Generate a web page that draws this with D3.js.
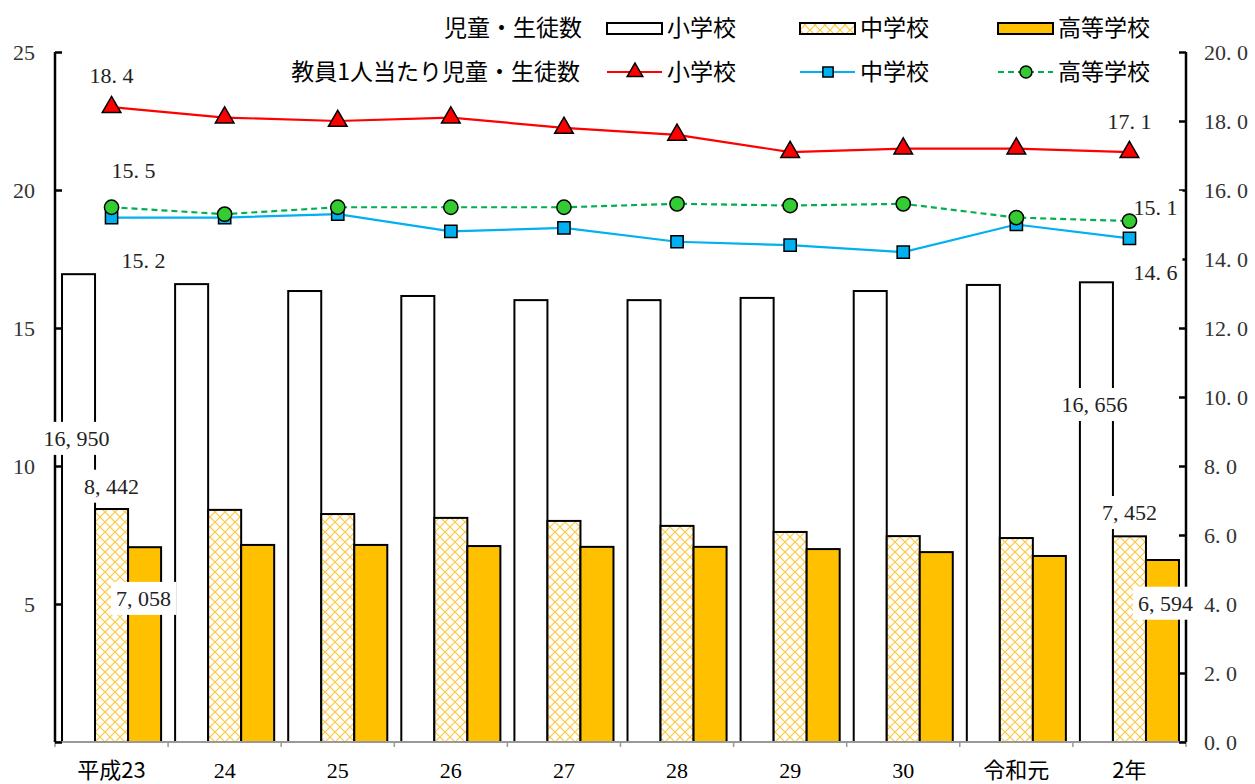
<!DOCTYPE html>
<html>
<head>
<meta charset="utf-8">
<script src="https://cdn.jsdelivr.net/npm/d3@7"></script>
<style>
  body { margin: 0; background: #fff; }
  text { font-family: "Liberation Serif", "Noto Sans CJK JP", serif; }
  .jp { font-family: "Noto Sans CJK JP", sans-serif; }
</style>
</head>
<body>
<div id="wrapper"></div>
<script>
const categories = ["平成23", "24", "25", "26", "27", "28", "29", "30", "令和元", "2年"];
// 児童・生徒数 (千人単位で左軸)
const elementaryCount = [16.950, 16.59, 16.34, 16.16, 16.01, 16.01, 16.09, 16.34, 16.56, 16.656];
const juniorCount = [8.442, 8.41, 8.26, 8.12, 8.01, 7.83, 7.61, 7.46, 7.39, 7.452];
const highCount = [7.058, 7.14, 7.14, 7.10, 7.07, 7.07, 6.99, 6.88, 6.74, 6.594];
// 教員1人当たり児童・生徒数 (右軸)
const elementaryRatio = [18.4, 18.1, 18.0, 18.1, 17.8, 17.6, 17.1, 17.2, 17.2, 17.1];
const juniorRatio = [15.2, 15.2, 15.3, 14.8, 14.9, 14.5, 14.4, 14.2, 15.0, 14.6];
const highRatio = [15.5, 15.3, 15.5, 15.5, 15.5, 15.6, 15.55, 15.6, 15.2, 15.1];
const leftTicks = [0, 5, 10, 15, 20, 25];
const rightTicks = [0, 2, 4, 6, 8, 10, 12, 14, 16, 18, 20];
const schoolNames = ["小学校", "中学校", "高等学校"];

const dimensions = {
  width: 1255,
  height: 784,
  margin: { top: 52, right: 69, bottom: 42, left: 55 },
};
dimensions.boundedWidth = dimensions.width - dimensions.margin.left - dimensions.margin.right;
dimensions.boundedHeight = dimensions.height - dimensions.margin.top - dimensions.margin.bottom;

const svg = d3.select("#wrapper")
  .append("svg")
  .attr("width", dimensions.width)
  .attr("height", dimensions.height);

const defs = svg.append("defs");
const hatch = defs.append("pattern")
  .attr("id", "hatch")
  .attr("patternUnits", "userSpaceOnUse")
  .attr("width", 10)
  .attr("height", 10);
hatch.append("rect").attr("width", 10).attr("height", 10).attr("fill", "#fff");
hatch.append("path").attr("d", "M0,0L10,10M10,0L0,10")
  .attr("stroke", "#FFC83D").attr("stroke-width", 1.2);

const bounds = svg.append("g")
  .attr("transform", `translate(${dimensions.margin.left},${dimensions.margin.top})`);

const xScale = d3.scaleBand()
  .domain(categories)
  .range([0, dimensions.boundedWidth])
  .paddingInner(0.124)
  .paddingOuter(0.062);
const subScale = d3.scaleBand()
  .domain(schoolNames)
  .range([0, xScale.bandwidth()]);
const yLeft = d3.scaleLinear().domain([0, 25]).range([dimensions.boundedHeight, 0]);
const yRight = d3.scaleLinear().domain([0, 20]).range([dimensions.boundedHeight, 0]);

const barSeries = [
  { name: "小学校", values: elementaryCount, fill: "#ffffff" },
  { name: "中学校", values: juniorCount, fill: "url(#hatch)" },
  { name: "高等学校", values: highCount, fill: "#FFC000" },
];
const lineSeries = [
  { name: "小学校", values: elementaryRatio, color: "#FF0000", fill: "#FF0000", symbol: d3.symbolTriangle, size: 150, dash: null },
  { name: "中学校", values: juniorRatio, color: "#00B0F0", fill: "#00B0F0", symbol: d3.symbolSquare, size: 150, dash: null },
  { name: "高等学校", values: highRatio, color: "#00B050", fill: "#33CC33", symbol: d3.symbolCircle, size: 160, dash: "6,4" },
];

// bars
barSeries.forEach((s) => {
  bounds.append("g").selectAll("rect")
    .data(s.values)
    .join("rect")
    .attr("x", (d, i) => xScale(categories[i]) + subScale(s.name))
    .attr("y", (d) => yLeft(d))
    .attr("width", subScale.bandwidth())
    .attr("height", (d) => yLeft(0) - yLeft(d))
    .attr("fill", s.fill)
    .attr("stroke", "#000")
    .attr("stroke-width", 2);
});

// bottom axis (gray)
const xAxis = bounds.append("g")
  .attr("transform", `translate(0,${dimensions.boundedHeight})`);
xAxis.append("line")
  .attr("x1", 0).attr("x2", dimensions.boundedWidth)
  .attr("stroke", "#999").attr("stroke-width", 2);
xAxis.selectAll(".tk")
  .data(d3.range(categories.length + 1))
  .join("line")
  .attr("x1", (i) => i * xScale.step()).attr("x2", (i) => i * xScale.step())
  .attr("y1", 0).attr("y2", 5)
  .attr("stroke", "#999").attr("stroke-width", 1.5);
xAxis.selectAll("text")
  .data(categories)
  .join("text")
  .attr("class", (d) => (/^\d+$/.test(d) ? null : "jp"))
  .attr("x", (d) => xScale(d) + xScale.bandwidth() / 2)
  .attr("y", 36)
  .attr("text-anchor", "middle")
  .attr("font-size", 22)
  .text((d) => d);

// left axis
const leftAxis = bounds.append("g")
  .call(d3.axisLeft(yLeft).tickValues(leftTicks).tickSize(-7).tickPadding(20).tickFormat(d3.format("d")));
leftAxis.select(".domain").attr("stroke-width", 2.5).attr("d", `M0,${dimensions.boundedHeight}V0`);
leftAxis.selectAll(".tick line").attr("stroke-width", 2.5);
leftAxis.selectAll(".tick text").attr("font-size", 22).attr("fill", "#333")
  .style("font-family", "Liberation Serif");
leftAxis.selectAll(".tick").filter((d) => d === 0).select("text").remove();

// right axis
const rightAxis = bounds.append("g")
  .attr("transform", `translate(${dimensions.boundedWidth},0)`)
  .call(d3.axisRight(yRight).tickValues(rightTicks).tickSize(-7).tickPadding(18).tickFormat((d) => d3.format(".1f")(d).replace(".", ". ")));
rightAxis.select(".domain").attr("stroke-width", 2.5).attr("d", `M0,${dimensions.boundedHeight}V0`);
rightAxis.selectAll(".tick line").attr("stroke-width", 2.5);
rightAxis.selectAll(".tick text").attr("font-size", 22).attr("fill", "#333")
  .style("font-family", "Liberation Serif");

// data labels (first and last year), under the lines
const labelG = bounds.append("g");
const fmtCount = (d) => d3.format(",")(Math.round(d * 1000)).replace(",", ", ");
const fmtRatio = (d) => d3.format(".1f")(d).replace(".", ". ");
const cx = (i) => xScale(categories[i]) + xScale.bandwidth() / 2;
const labels = [
  { x: cx(0) - 35, y: yLeft(elementaryCount[0]) + 164, text: fmtCount(elementaryCount[0]) },
  { x: cx(0), y: yLeft(juniorCount[0]) - 23, text: fmtCount(juniorCount[0]) },
  { x: cx(0) + 32, y: yLeft(highCount[0]) + 51, text: fmtCount(highCount[0]) },
  { x: cx(9) - 35, y: yLeft(elementaryCount[9]) + 122, text: fmtCount(elementaryCount[9]) },
  { x: cx(9), y: yLeft(juniorCount[9]) - 24, text: fmtCount(juniorCount[9]) },
  { x: cx(9) + 36, y: yLeft(highCount[9]) + 43, text: fmtCount(highCount[9]) },
  { x: cx(0), y: yRight(elementaryRatio[0]) - 32, text: fmtRatio(elementaryRatio[0]) },
  { x: cx(0) + 22, y: yRight(highRatio[0]) - 37, text: fmtRatio(highRatio[0]) },
  { x: cx(0) + 32, y: yRight(juniorRatio[0]) + 43, text: fmtRatio(juniorRatio[0]) },
  { x: cx(9), y: yRight(elementaryRatio[9]) - 31, text: fmtRatio(elementaryRatio[9]) },
  { x: cx(9) + 26, y: yRight(highRatio[9]) - 14, text: fmtRatio(highRatio[9]) },
  { x: cx(9) + 26, y: yRight(juniorRatio[9]) + 34, text: fmtRatio(juniorRatio[9]) },
];
labels.forEach((l) => {
  const g = labelG.append("g").attr("transform", `translate(${l.x},${l.y})`);
  const t = g.append("text")
    .attr("text-anchor", "middle")
    .attr("dy", "0.35em")
    .attr("font-size", 22)
    .attr("fill", "#222")
    .text(l.text);
  const bb = t.node().getBBox();
  g.insert("rect", "text")
    .attr("x", bb.x - 5).attr("y", bb.y - 4)
    .attr("width", bb.width + 10).attr("height", bb.height + 8)
    .attr("fill", "#fff");
});

// lines
lineSeries.forEach((s) => {
  const lineGenerator = d3.line()
    .x((d, i) => xScale(categories[i]) + xScale.bandwidth() / 2)
    .y((d) => yRight(d));
  bounds.append("path")
    .attr("d", lineGenerator(s.values))
    .attr("fill", "none")
    .attr("stroke", s.color)
    .attr("stroke-width", 2.2)
    .attr("stroke-dasharray", s.dash);
});
lineSeries.forEach((s) => {
  bounds.append("g").selectAll("path")
    .data(s.values)
    .join("path")
    .attr("transform", (d, i) => `translate(${xScale(categories[i]) + xScale.bandwidth() / 2},${yRight(d)})`)
    .attr("d", d3.symbol(s.symbol, s.size))
    .attr("fill", s.fill)
    .attr("stroke", "#000")
    .attr("stroke-width", 1.5);
});

// legend
const legend = svg.append("g");
const legendCols = [607, 800, 998];
legend.append("text").attr("class", "jp")
  .attr("x", 582).attr("y", 28).attr("dy", "0.35em")
  .attr("text-anchor", "end").attr("font-size", 23).text("児童・生徒数");
legend.append("text").attr("class", "jp")
  .attr("x", 580).attr("y", 72).attr("dy", "0.35em")
  .attr("text-anchor", "end").attr("font-size", 23).text("教員1人当たり児童・生徒数");
barSeries.forEach((s, i) => {
  legend.append("rect")
    .attr("x", legendCols[i]).attr("y", 23)
    .attr("width", 55).attr("height", 11)
    .attr("fill", s.fill).attr("stroke", "#000").attr("stroke-width", 2);
  legend.append("text").attr("class", "jp")
    .attr("x", legendCols[i] + 60).attr("y", 28).attr("dy", "0.35em")
    .attr("font-size", 23).text(s.name);
});
lineSeries.forEach((s, i) => {
  legend.append("line")
    .attr("x1", legendCols[i]).attr("x2", legendCols[i] + 55)
    .attr("y1", 72).attr("y2", 72)
    .attr("stroke", s.color).attr("stroke-width", 2.2)
    .attr("stroke-dasharray", s.dash);
  legend.append("path")
    .attr("transform", `translate(${legendCols[i] + 28},72)`)
    .attr("d", d3.symbol(s.symbol, s.size * 0.7))
    .attr("fill", s.fill).attr("stroke", "#000").attr("stroke-width", 1.5);
  legend.append("text").attr("class", "jp")
    .attr("x", legendCols[i] + 60).attr("y", 72).attr("dy", "0.35em")
    .attr("font-size", 23).text(s.name);
});
</script>
</body>
</html>
